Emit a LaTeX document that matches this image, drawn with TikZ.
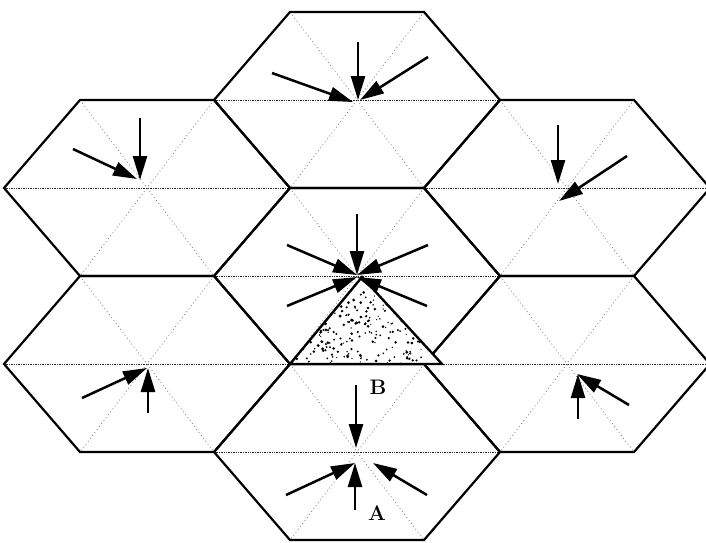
\documentclass[tikz,border=0pt]{standalone}
\usepackage{tikz}
\usetikzlibrary{arrows.meta,calc}

\begin{document}
\begin{tikzpicture}[
  x=1pt, y=-1pt,
  >={Triangle[length=24pt,width=14pt]},
  cell/.style  = {draw, line width=2.2pt, line join=miter},
  axis/.style  = {line width=1pt, dash pattern=on 1.3pt off 1.1pt, black!85},
  diag/.style  = {line width=0.8pt, dash pattern=on 0.9pt off 2.8pt, black!50},
  push/.style  = {->, line width=2.5pt},
  zone/.style  = {draw, line width=2.4pt, line join=miter},
  tag/.style   = {font=\fontsize{21}{21}\selectfont\bfseries, inner sep=0pt}
]

\def\ha{143}% half width of a cell
\def\hb{67}%  half length of top edge
\def\hh{88}%  half height of a cell

\useasboundingbox (0,0) rectangle (706,542);

% ============================ cell centres =================================
\coordinate (mid) at (357,276);
\coordinate (top) at (357,100);
\coordinate (bot) at (357,452);
\coordinate (ul)  at (147,188);
\coordinate (ll)  at (147,364);
\coordinate (ur)  at (567,188);
\coordinate (lr)  at (567,364);

% ============================== hexagons ===================================
\foreach \c in {mid,top,bot,ul,ll,ur,lr}{
  \draw[diag] (\c) ++(-\hb,-\hh) -- ++(2*\hb,2*\hh);
  \draw[diag] (\c) ++(\hb,-\hh) -- ++(-2*\hb,2*\hh);
  \draw[axis] (\c) ++(-\ha,0) -- ++(2*\ha,0);
}
\foreach \c in {mid,top,bot,ul,ll,ur,lr}
  \draw[cell] (\c) ++(-\ha,0) -- ++(\ha-\hb,-\hh) -- ++(2*\hb,0)
    -- ++(\ha-\hb,\hh) -- ++(\hb-\ha,\hh) -- ++(-2*\hb,0) -- cycle;

% ========================= stippled triangle ===============================
\coordinate (apex) at (362,277);
\coordinate (tbl)  at (290,364);
\coordinate (tbr)  at (442,364);

\fill[white] (apex) -- (tbl) -- (tbr) -- cycle;
\begin{scope}
  \clip (apex) -- (tbl) -- (tbr) -- cycle;
  \pgfmathsetseed{11}
  \foreach \k in {1,...,300}
    \fill ({290+152*rnd},{292+74*rnd}) circle[radius={0.6+1.0*rnd}];
\end{scope}
\draw[zone] (apex) -- (tbl) -- (tbr) -- cycle;

% =============================== arrows ====================================
% top cell
\draw[push] ($(top)+(1,-58)$)   -- ($(top)+(1,0)$);
\draw[push] ($(top)+(-85,-27)$) -- ($(top)+(-4,2)$);
\draw[push] ($(top)+(71,-43)$)  -- ($(top)+(3,0)$);
% upper left cell
\draw[push] ($(ul)+(-7,-70)$)   -- ($(ul)+(-7,-8)$);
\draw[push] ($(ul)+(-74,-39)$)  -- ($(ul)+(-10,-9)$);
% upper right cell
\draw[push] ($(ur)+(-9,-63)$)   -- ($(ur)+(-9,-4)$);
\draw[push] ($(ur)+(60,-32)$)   -- ($(ur)+(-8,13)$);
% middle cell
\draw[push] ($(mid)+(0,-62)$)   -- ($(mid)+(0,-1)$);
\draw[push] ($(mid)+(-70,-31)$) -- ($(mid)+(0,-1)$);
\draw[push] ($(mid)+(71,-31)$)  -- ($(mid)+(0,-1)$);
\draw[push] ($(mid)+(-70,30)$)  -- ($(mid)+(0,1)$);
\draw[push] ($(mid)+(70,30)$)   -- ($(mid)+(0,1)$);
% lower left cell
\draw[push] ($(ll)+(-65,34)$)   -- ($(ll)+(0,4)$);
\draw[push] ($(ll)+(1,49)$)     -- ($(ll)+(1,4)$);
% lower right cell
\draw[push] ($(lr)+(62,41)$)    -- ($(lr)+(10,10)$);
\draw[push] ($(lr)+(11,55)$)    -- ($(lr)+(11,10)$);
% bottom cell
\draw[push] ($(bot)+(-1,-67)$)  -- ($(bot)+(-1,-4)$);
\draw[push] ($(bot)+(-71,43)$)  -- ($(bot)+(-2,11)$);
\draw[push] ($(bot)+(-2,58)$)   -- ($(bot)+(-2,11)$);
\draw[push] ($(bot)+(70,43)$)   -- ($(bot)+(16,11)$);

% =============================== labels ====================================
\node[tag] (labb) at (378,387) {B};
\node[tag] (laba) at (377,513) {A};

\end{tikzpicture}
\end{document}
